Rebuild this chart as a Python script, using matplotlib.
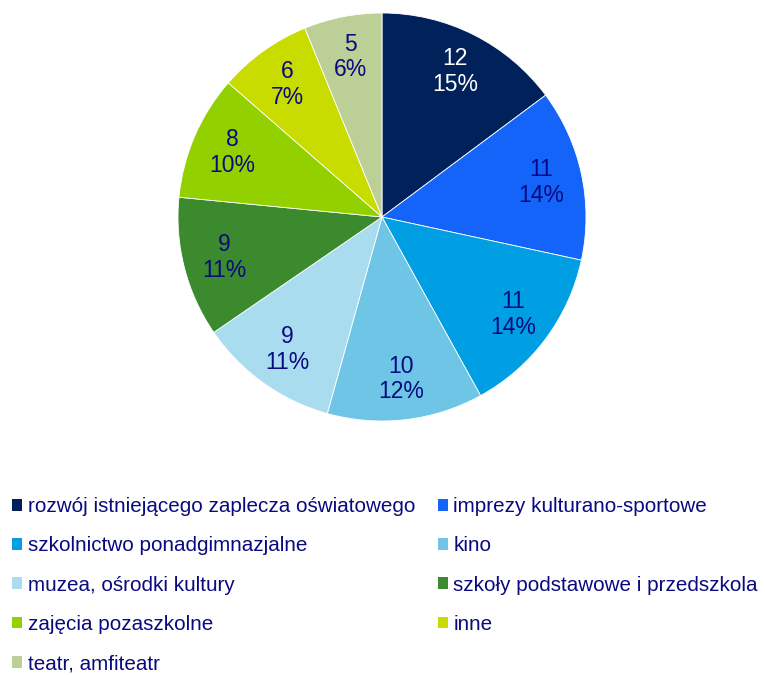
import matplotlib.pyplot as plt

plt.rcParams['font.family'] = ['Liberation Sans', 'DejaVu Sans']

# dane z wykresu
categories = [
    "rozwój istniejącego zaplecza oświatowego",
    "imprezy kulturano-sportowe",
    "szkolnictwo ponadgimnazjalne",
    "kino",
    "muzea, ośrodki kultury",
    "szkoły podstawowe i przedszkola",
    "zajęcia pozaszkolne",
    "inne",
    "teatr, amfiteatr",
]
values = [12, 11, 11, 10, 9, 9, 8, 6, 5]
colors = ["#00215A", "#1464FA", "#009FE3", "#6EC5E6", "#AADCF0",
          "#3C8A2E", "#92D000", "#C8DC00", "#BCCF96"]
TEXT = "#0A0A80"

total = sum(values)

fig = plt.figure(figsize=(7.65, 6.75), dpi=100)
# os kołowa: środek (382, 217), promień ~204 px
r_px = 204
cx, cy = 382, 217
ax = fig.add_axes([(cx - r_px) / 765, 1 - (cy + r_px) / 675,
                   2 * r_px / 765, 2 * r_px / 675])

wedges, texts = ax.pie(
    values, colors=colors, startangle=90, counterclock=False,
    labels=[f"{v}\n{round(v / total * 100)}%" for v in values],
    labeldistance=0.8,
    wedgeprops=dict(edgecolor="white", linewidth=0.6),
    textprops=dict(fontsize=16.5, color=TEXT, ha="center", va="center",
                   linespacing=1.15),
)
for t in texts:
    t.set_horizontalalignment("center")
texts[0].set_color("white")
ax.set_aspect("auto")
ax.set_xlim(-1, 1)
ax.set_ylim(-1, 1)

# legenda wierszami: kolumna lewa 0,2,4,..., prawa 1,3,5,...
order = list(range(0, len(values), 2)) + list(range(1, len(values), 2))
leg = fig.legend(
    [wedges[i] for i in order], [categories[i] for i in order],
    ncol=2, loc="upper left", bbox_to_anchor=(12 / 765, 1 - 497 / 675),
    frameon=False, fontsize=14.9, borderpad=0, borderaxespad=0,
    handlelength=0.5, handleheight=0.5, handletextpad=0.25,
    columnspacing=1.1, labelspacing=0.98,
)
for t in leg.get_texts():
    t.set_color(TEXT)
for h in leg.legend_handles:
    h.set_edgecolor("none")

fig.savefig("out.png", dpi=100)
